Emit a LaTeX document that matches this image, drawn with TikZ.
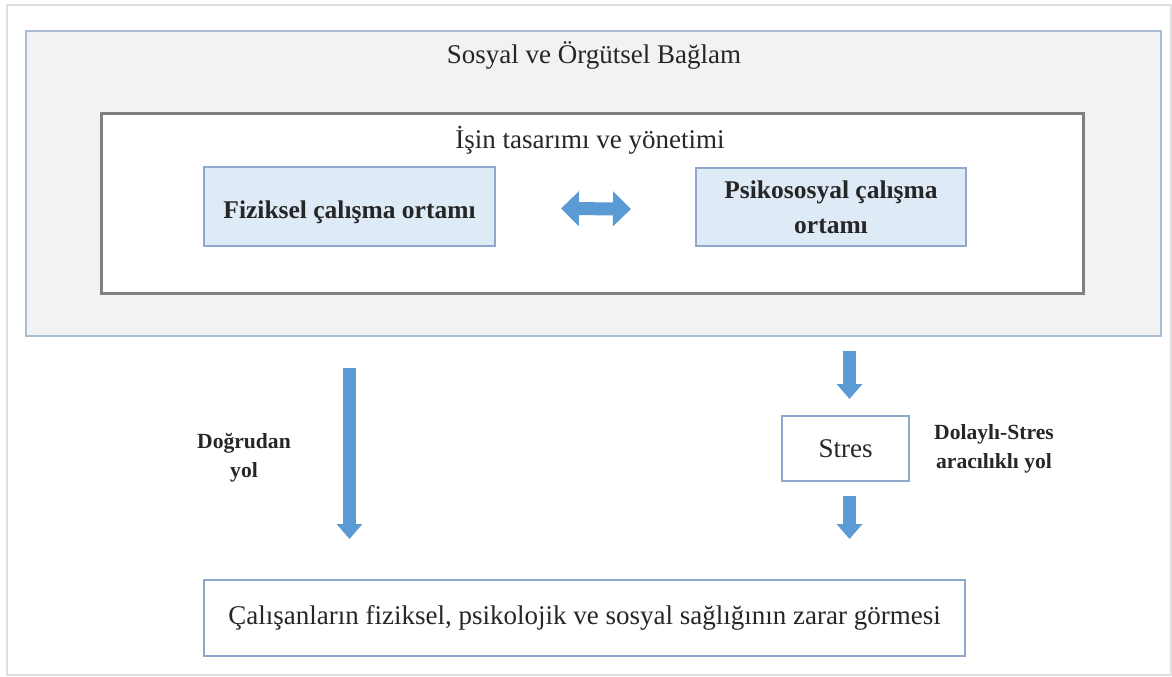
\documentclass[tikz,border=0pt]{standalone}
\usepackage{fontspec}
\setmainfont{Liberation Serif}
\usetikzlibrary{arrows.meta,calc}
\definecolor{frameline}{RGB}{170,188,212}
\definecolor{panelfill}{RGB}{242,242,242}
\definecolor{boxfill}{RGB}{222,234,246}
\definecolor{boxline}{RGB}{142,168,206}
\definecolor{arrowblue}{RGB}{91,155,213}
\definecolor{textdark}{RGB}{38,38,38}

\begin{document}
\begin{tikzpicture}[x=0.5pt, y=-0.5pt, >=stealth]
        % Styles
        \tikzset{context/.style={rectangle, draw=frameline, line width=1pt, fill=panelfill, minimum width=567.5pt, minimum height=152.5pt}}
        \tikzset{design/.style={rectangle, draw=gray, line width=1.5pt, fill=white, minimum width=491pt, minimum height=90pt}}
        \tikzset{envbox/.style={rectangle, draw=boxline, line width=1pt, fill=boxfill, text=textdark, font=\fontsize{12.75}{17.5}\selectfont\bfseries, align=center}}
        \tikzset{plainbox/.style={rectangle, draw=boxline, line width=1pt, fill=white, text=textdark, font=\fontsize{13.5}{16}\selectfont}}
        \tikzset{label/.style={text=textdark, font=\fontsize{13.5}{16}\selectfont}}
        \tikzset{pathlabel/.style={text=textdark, font=\fontsize{10.8}{14.5}\selectfont\bfseries, align=center}}
        \tikzset{blockarrow/.style={draw=arrowblue, line width=6.5pt, -{Triangle[length=7.5pt, width=12.5pt]}}}

        \useasboundingbox (0,0) rectangle (1172,676);
        \draw[gray!25, line width=1pt] (7,5) rectangle (1171,675);

        % Context
        \node[context] (context) at (593.5,183.5) {};
        \node[label] (contexttitle) at (594,55) {Sosyal ve Örgütsel Bağlam};
        \node[design] (design) at (592,203) {};
        \node[label] (designtitle) at (590,140) {İşin tasarımı ve yönetimi};

        % Work environments
        \node[envbox, minimum width=145.5pt, minimum height=39.5pt, text height=12pt, text depth=0pt] (physical) at (349.5,206.5) {Fiziksel çalışma ortamı};
        \node[envbox, minimum width=135pt, minimum height=39pt] (psychosocial) at (831,207) {Psikososyal çalışma\\ortamı};

        % Outcomes
        \node[plainbox, minimum width=63.5pt, minimum height=32.5pt] (stress) at (845.5,448.5) {Stres};
        \node[plainbox, minimum width=380.5pt, minimum height=38pt] (harm) at (584.5,618) {Çalışanların fiziksel, psikolojik ve sosyal sağlığının zarar görmesi};

        % Path labels
        \node[pathlabel] (direct) at (244,458) {Doğrudan\\yol};
        \node[pathlabel] (indirect) at (994,449) {Dolaylı-Stres\\aracılıklı yol};

        % Connections
        \draw[draw=arrowblue, line width=6.5pt, {Triangle[length=9pt, width=17pt]}-{Triangle[length=9pt, width=17pt]}] ($(physical.east)+(65,2)$) -- ($(psychosocial.west)+(-64,2)$);
        \draw[blockarrow] ($(physical.center |- context.south)+(0,31)$) -- ($(physical.center |- harm.north)+(0,-40)$);
        \draw[blockarrow] ($(stress.center |- context.south)+(4,14)$) -- ($(stress.north)+(4,-16)$);
        \draw[blockarrow] ($(stress.south)+(4,14)$) -- ($(stress.center |- harm.north)+(4,-40)$);
    \end{tikzpicture}
\end{document}
